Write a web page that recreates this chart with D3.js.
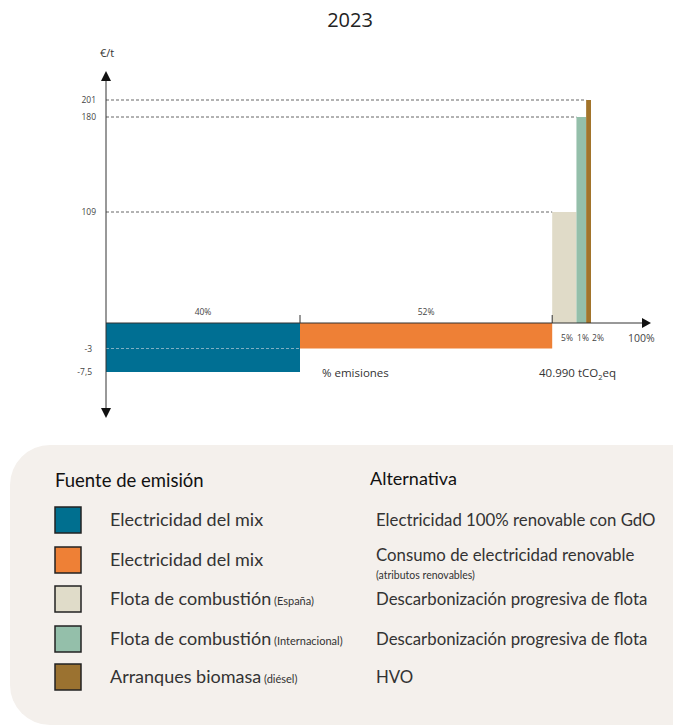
<!DOCTYPE html>
<html>
<head>
<meta charset="utf-8">
<script src="https://cdn.jsdelivr.net/npm/d3@7"></script>
<style>
  html, body { margin: 0; padding: 0; background: #ffffff; }
  svg { display: block; }
</style>
</head>
<body>
<div id="chart"></div>
<script>
// ---------- DATA ----------
const title = "2023";
const sources = ["Electricidad del mix", "Electricidad del mix", "Flota de combustión", "Flota de combustión", "Arranques biomasa"];
const sourceNotes = ["", "", "(España)", "(Internacional)", "(diésel)"];
const alternatives = ["Electricidad 100% renovable con GdO", "Consumo de electricidad renovable", "Descarbonización progresiva de flota", "Descarbonización progresiva de flota", "HVO"];
const alternativeNotes = ["", "(atributos renovables)", "", "", ""];
const costs = [-7.5, -3, 109, 180, 201];            // €/t
const shares = [40, 52, 5, 2, 1];                    // % of emissions (bar widths)
const shareLabels = ["40%", "52%", "5%", "1%", "2%"];
const colors = ["#006f93", "#ee8036", "#e0dbc8", "#94bfaa", "#a2742b"];
const legendColors = ["#006f8f", "#ee8036", "#e0dcc9", "#94bfaa", "#9b7230"];
const yTickValues = [-7.5, -3, 0, 109, 180, 201];
const yTickLabels = ["-7,5", "-3", "", "109", "180", "201"];
const yAxisLabel = "€/t";
const xAxisLabel = "% emisiones";
const xEndLabel = "100%";
const totalLabel = "40.990 tCO";

// ---------- LAYOUT ----------
const W = 673, H = 726;
const svg = d3.select("#chart").append("svg").attr("width", W).attr("height", H)
  .style("font-family", "'Open Sans', sans-serif");

// schematic (non-uniform) value axis as in the original
const y = d3.scaleLinear().domain(yTickValues).range([372, 348.5, 323, 212, 117, 100]);
const x = d3.scaleLinear().domain([0, 100]).range([106, 591]);

const starts = d3.cumsum([0].concat(shares)).slice(0, shares.length);
const bars = shares.map((s, i) => ({ x0: starts[i], x1: starts[i] + s, v: costs[i], c: colors[i], label: shareLabels[i] }));

// title
svg.append("text").attr("x", 350).attr("y", 27).attr("text-anchor", "middle")
  .attr("font-size", 20).attr("fill", "#222").text(title);

// bars
svg.append("g").selectAll("rect").data(bars).join("rect")
  .attr("x", d => x(d.x0))
  .attr("width", d => x(d.x1) - x(d.x0))
  .attr("y", d => Math.min(y(d.v), y(0)))
  .attr("height", d => Math.abs(y(d.v) - y(0)))
  .attr("fill", d => d.c);

// dashed reference lines
const x0 = x(0);
bars.forEach(d => {
  if (d.v > 0) {
    svg.append("line").attr("x1", x0).attr("x2", x(d.x0)).attr("y1", y(d.v)).attr("y2", y(d.v))
      .attr("stroke", "#555").attr("stroke-width", 0.9).attr("stroke-dasharray", "3,2");
  }
});
// -3 line across the first bar
svg.append("line").attr("x1", x0).attr("x2", x(bars[0].x1)).attr("y1", y(costs[1])).attr("y2", y(costs[1]))
  .attr("stroke", "#8fb7c8").attr("stroke-width", 0.9).attr("stroke-dasharray", "3,2");

// y axis with arrows
const axisColor = "#333";
svg.append("line").attr("x1", x0).attr("x2", x0).attr("y1", 78).attr("y2", 410)
  .attr("stroke", axisColor).attr("stroke-width", 1);
svg.append("path").attr("d", d3.line()([[x0 - 5, 81], [x0, 71], [x0 + 5, 81]]) + "Z").attr("fill", "#111");
svg.append("path").attr("d", d3.line()([[x0 - 5, 408], [x0, 418], [x0 + 5, 408]]) + "Z").attr("fill", "#111");

// x axis with arrow
const y0 = y(0);
svg.append("line").attr("x1", x0).attr("x2", 644).attr("y1", y0).attr("y2", y0)
  .attr("stroke", axisColor).attr("stroke-width", 1);
svg.append("path").attr("d", d3.line()([[642, y0 - 5], [651, y0], [642, y0 + 5]]) + "Z").attr("fill", "#111");

// ticks at segment boundaries
[bars[1].x0, bars[2].x0].forEach(v => {
  svg.append("line").attr("x1", x(v)).attr("x2", x(v)).attr("y1", y0 - 8).attr("y2", y0)
    .attr("stroke", axisColor).attr("stroke-width", 1);
});

// y tick labels
svg.append("g").selectAll("text").data(yTickValues.map((v, i) => ({ v, t: yTickLabels[i] })).filter(d => d.t))
  .join("text")
  .attr("x", d => d.v < 0 ? 92 : 96).attr("y", d => y(d.v) + 3)
  .attr("text-anchor", "end").attr("font-size", 8.5).attr("fill", "#444").text(d => d.t);

// y axis label
svg.append("text").attr("x", 107).attr("y", 57).attr("text-anchor", "middle")
  .attr("font-size", 11).attr("fill", "#333").text(yAxisLabel);

// share labels for big segments
bars.slice(0, 2).forEach(d => {
  svg.append("text").attr("x", (x(d.x0) + x(d.x1)) / 2).attr("y", 315).attr("text-anchor", "middle")
    .attr("font-size", 8.5).attr("fill", "#444").text(d.label);
});
// small labels below axis
const smallX = [567, 583, 598];
bars.slice(2).forEach((d, i) => {
  svg.append("text").attr("x", smallX[i]).attr("y", 341).attr("text-anchor", "middle")
    .attr("font-size", 8.5).attr("fill", "#444").text(d.label);
});

svg.append("text").attr("x", 628).attr("y", 342).attr("font-size", 10.5).attr("fill", "#444").text(xEndLabel);
svg.append("text").attr("x", 322).attr("y", 377).attr("font-size", 11.5).attr("fill", "#333").text(xAxisLabel);
const tot = svg.append("text").attr("x", 539).attr("y", 377).attr("font-size", 11.5).attr("fill", "#333");
tot.append("tspan").text(totalLabel);
tot.append("tspan").attr("font-size", 7.5).attr("dy", 3).text("2");
tot.append("tspan").attr("dy", -3).text("eq");

// ---------- LEGEND ----------
const lg = svg.append("g").style("font-family", "Lato, 'Open Sans', sans-serif");
lg.append("rect").attr("x", 10).attr("y", 445).attr("width", 700).attr("height", 280)
  .attr("rx", 40).attr("ry", 40).attr("fill", "#f4f0ec");
lg.append("text").attr("x", 55).attr("y", 487).attr("font-size", 18.5).attr("fill", "#111").text("Fuente de emisión");
lg.append("text").attr("x", 370).attr("y", 485).attr("font-size", 18).attr("fill", "#111").text("Alternativa");

const rowY = [507, 547, 586, 626, 664];
sources.forEach((s, i) => {
  const ry = rowY[i];
  lg.append("rect").attr("x", 55).attr("y", ry).attr("width", 26).attr("height", 26)
    .attr("fill", legendColors[i]).attr("stroke", "#222").attr("stroke-width", 1.5);
  const t = lg.append("text").attr("x", 110).attr("y", ry + 19).attr("font-size", 18).attr("fill", "#333");
  t.append("tspan").text(s);
  if (sourceNotes[i]) t.append("tspan").attr("font-size", 11).text(" " + sourceNotes[i]);
  lg.append("text").attr("x", 376).attr("y", alternativeNotes[i] ? ry + 14 : ry + 19)
    .attr("font-size", 16.8).attr("fill", "#333").text(alternatives[i]);
  if (alternativeNotes[i]) {
    lg.append("text").attr("x", 376).attr("y", ry + 32).attr("font-size", 10.5).attr("fill", "#333").text(alternativeNotes[i]);
  }
});
</script>
</body>
</html>
